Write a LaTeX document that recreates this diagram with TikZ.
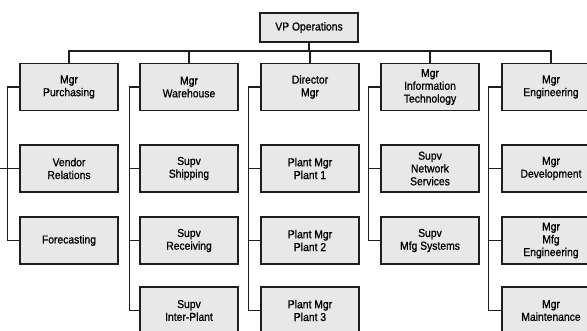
\documentclass[tikz,border=0pt]{standalone}
\usepackage{fontspec}
\setmainfont{Liberation Sans}
\newfontfamily\boxfont[FakeBold=0.9, FakeStretch=0.9]{Liberation Sans}
\usetikzlibrary{calc}

\definecolor{boxgray}{RGB}{232,232,232}
\definecolor{linegray}{RGB}{30,30,30}

\tikzstyle{post} = [draw=linegray, line width=1.4pt, fill=boxgray, minimum width=98pt, minimum height=47pt,
                    align=center, inner sep=1pt, font=\boxfont\fontsize{11.5}{12.8}\selectfont]
\tikzstyle{chief} = [post, minimum height=29pt]
\tikzstyle{wire} = [draw=linegray, line width=1.3pt]

\begin{document}
\begin{tikzpicture}[x=1pt, y=-1pt]
\useasboundingbox (0,0) rectangle (587,330);
\fill[white] (0,0) rectangle (587,330);

% top
\node[chief] (vp) at (309,27.5) {VP Operations};
\coordinate (bus) at (0,51);
\coordinate (edge) at (0,0);

% purchasing
\node[post] (pur) at (69,87) {Mgr\\Purchasing};
\node[post] (ven) at (69,168.5) {Vendor\\Relations};
\node[post] (fore) at (69,240.5) {Forecasting};

% warehouse
\node[post] (war) at (189,87) {Mgr\\Warehouse};
\node[post] (ship) at (189,168.5) {Supv\\Shipping};
\node[post] (recv) at (189,240.5) {Supv\\Receiving};
\node[post] (inter) at (189,310.5) {Supv\\Inter-Plant};

% plants
\node[post] (dir) at (310,87) {Director\\Mgr};
\node[post] (pla) at (310,168.5) {Plant Mgr\\Plant 1};
\node[post] (plb) at (310,240.5) {Plant Mgr\\Plant 2};
\node[post] (plc) at (310,310.5) {Plant Mgr\\Plant 3};

% information technology
\node[post] (it) at (430,87) {Mgr\\Information\\Technology};
\node[post] (net) at (430,168.5) {Supv\\Network\\Services};
\node[post] (mfg) at (430,240.5) {Supv\\Mfg Systems};

% engineering
\node[post] (eng) at (551,87) {Mgr\\Engineering};
\node[post] (dev) at (551,168.5) {Mgr\\Development};
\node[post] (meng) at (551,240.5) {Mgr\\Mfg\\Engineering};
\node[post] (maint) at (551,310.5) {Mgr\\Maintenance};

% bus to the managers
\draw[wire] (vp.south) -- (vp.south |- bus);
\draw[wire] (pur.north) -- (pur.north |- bus) -| (eng.north);
\draw[wire] (war.north) -- (war.north |- bus);
\draw[wire] (dir.north) -- (dir.north |- bus);
\draw[wire] (it.north) -- (it.north |- bus);

% brackets down each column
\draw[wire] (pur.west) -- ++(-12,0) |- (fore.west);
\draw[wire] (ven.west) -- (ven.west -| edge);
\draw[wire] (war.west) -- ++(-10,0) |- (inter.west);
\draw[wire] (ship.west) -- ++(-10,0);
\draw[wire] (recv.west) -- ++(-10,0);
\draw[wire] (dir.west) -- ++(-12,0) |- (plc.west);
\draw[wire] (pla.west) -- ++(-12,0);
\draw[wire] (plb.west) -- ++(-12,0);
\draw[wire] (it.west) -- ++(-12,0) |- (mfg.west);
\draw[wire] (net.west) -- ++(-12,0);
\draw[wire] (eng.west) -- ++(-13,0) |- (maint.west);
\draw[wire] (dev.west) -- ++(-13,0);
\draw[wire] (meng.west) -- ++(-13,0);
\end{tikzpicture}
\end{document}
